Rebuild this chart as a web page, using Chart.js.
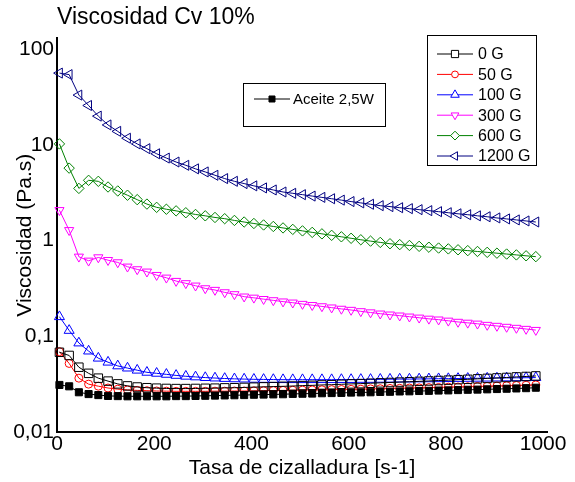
<!DOCTYPE html>
<html>
<head>
<meta charset="utf-8">
<script src="https://cdn.jsdelivr.net/npm/chart.js@4.4.0/dist/chart.umd.min.js"></script>
<style>
  html, body { margin: 0; padding: 0; background: #fff; }
  #wrap { width: 575px; height: 482px; }
</style>
</head>
<body>
<div id="wrap"><canvas id="viscChart"></canvas></div>
<script>
// shear rate [s-1]
const shearRate = [5, 25, 45, 65, 85, 105, 125, 145, 165, 185, 205, 225, 245, 265, 285, 305, 325, 345, 365, 385,
  405, 425, 445, 465, 485, 505, 525, 545, 565, 585, 605, 625, 645, 665, 685, 705, 725, 745, 765, 785,
  805, 825, 845, 865, 885, 905, 925, 945, 965, 985];

// viscosity [Pa.s]
const aceite = [0.031, 0.030, 0.026, 0.0249, 0.0243, 0.0238, 0.0237, 0.0236, 0.0236, 0.0236, 0.0236, 0.0236, 0.0237, 0.0237, 0.0238, 0.0239, 0.024, 0.0241, 0.0242, 0.0243,
  0.0245, 0.0246, 0.0247, 0.0248, 0.025, 0.0251, 0.0252, 0.0254, 0.0255, 0.0256, 0.0258, 0.0259, 0.026, 0.0262, 0.0263, 0.0265, 0.0266, 0.0268, 0.0269, 0.0271,
  0.0272, 0.0274, 0.0276, 0.0277, 0.0279, 0.0281, 0.0283, 0.0285, 0.0287, 0.029];
const g0 = [0.068, 0.063, 0.0475, 0.041, 0.0365, 0.034, 0.0318, 0.0303, 0.0295, 0.029, 0.0287, 0.0285, 0.0284, 0.0284, 0.0285, 0.0286, 0.0287, 0.0289, 0.029, 0.0292,
  0.0294, 0.0296, 0.0298, 0.03, 0.0302, 0.0305, 0.0307, 0.031, 0.0312, 0.0315, 0.0318, 0.032, 0.0323, 0.0326, 0.0329, 0.0332, 0.0335, 0.0338, 0.0341, 0.0345,
  0.0348, 0.0352, 0.0355, 0.0359, 0.0363, 0.0367, 0.0371, 0.0376, 0.038, 0.0385];
const g50 = [0.069, 0.052, 0.0365, 0.0316, 0.0301, 0.0288, 0.028, 0.0275, 0.0272, 0.027, 0.0268, 0.0267, 0.0266, 0.0266, 0.0266, 0.0266, 0.0267, 0.0267, 0.0268, 0.0268,
  0.0269, 0.027, 0.0271, 0.0272, 0.0273, 0.0274, 0.0275, 0.0276, 0.0277, 0.0278, 0.0279, 0.028, 0.0282, 0.0283, 0.0285, 0.0286, 0.0288, 0.0289, 0.0291, 0.0292,
  0.0294, 0.0295, 0.0297, 0.0299, 0.03, 0.0302, 0.0304, 0.0306, 0.0308, 0.031];
const g100 = [0.16, 0.115, 0.085, 0.07, 0.059, 0.0536, 0.049, 0.0465, 0.0442, 0.042, 0.041, 0.040, 0.039, 0.0382, 0.0376, 0.037, 0.0366, 0.0362, 0.0359, 0.0357,
  0.0355, 0.0354, 0.0353, 0.0352, 0.0352, 0.0352, 0.0352, 0.0352, 0.0352, 0.0353, 0.0353, 0.0354, 0.0354, 0.0355, 0.0356, 0.0357, 0.0357, 0.0358, 0.0359, 0.036,
  0.0361, 0.0362, 0.0363, 0.0364, 0.0365, 0.0366, 0.0367, 0.0368, 0.0369, 0.037];
const g300 = [2.07, 1.28, 0.676, 0.614, 0.665, 0.623, 0.59, 0.532, 0.499, 0.472, 0.435, 0.408, 0.377, 0.357, 0.337, 0.316, 0.304, 0.287, 0.274, 0.259,
  0.252, 0.244, 0.237, 0.230, 0.224, 0.217, 0.211, 0.205, 0.199, 0.193, 0.188, 0.182, 0.177, 0.172, 0.168, 0.164, 0.160, 0.156, 0.152, 0.149,
  0.145, 0.141, 0.138, 0.135, 0.131, 0.128, 0.125, 0.122, 0.119, 0.116];
const g600 = [10.2, 5.7, 3.5, 4.25, 4.15, 3.62, 3.29, 2.97, 2.67, 2.4, 2.22, 2.12, 2.04, 1.95, 1.87, 1.81, 1.74, 1.69, 1.62, 1.56,
  1.505, 1.453, 1.402, 1.353, 1.306, 1.26, 1.216, 1.173, 1.132, 1.093, 1.055, 1.018, 0.985, 0.955, 0.925, 0.906, 0.887, 0.869, 0.851, 0.834,
  0.817, 0.80, 0.784, 0.768, 0.752, 0.737, 0.722, 0.707, 0.692, 0.678];
const g1200 = [56, 54, 33, 25.7, 19.9, 16.1, 13.8, 11.7, 10.2, 9.1, 8.05, 7.26, 6.6, 6.1, 5.6, 5.2, 4.8, 4.43, 4.15, 3.93,
  3.72, 3.54, 3.37, 3.21, 3.11, 3.01, 2.91, 2.82, 2.73, 2.64, 2.55, 2.47, 2.39, 2.31, 2.26, 2.2, 2.15, 2.1, 2.05, 2.0,
  1.95, 1.9, 1.86, 1.81, 1.77, 1.72, 1.68, 1.64, 1.60, 1.56];

const xTicks = [0, 200, 400, 600, 800, 1000];
const yTicks = [0.01, 0.1, 1, 10, 100];

const FONT = "'Liberation Sans', Arial, sans-serif";

function pts(arr) {
  return arr.map((v, i) => ({ x: shearRate[i], y: v }));
}

function series(label, data, color, style, rot, radius, fill) {
  return {
    label: label,
    data: pts(data),
    borderColor: color,
    backgroundColor: fill || 'rgba(0,0,0,0)',
    borderWidth: 1,
    pointStyle: style,
    pointRotation: rot,
    pointRadius: radius,
    pointBorderWidth: 1,
    pointBorderColor: color,
    pointBackgroundColor: fill || 'rgba(0,0,0,0)',
    tension: 0,
    clip: false
  };
}

// draws the two framed legends of the original plot
function drawLegendBox(chart, indices, box) {
  const ctx = chart.ctx;
  ctx.save();
  ctx.strokeStyle = '#000';
  ctx.lineWidth = 1;
  ctx.strokeRect(box.x, box.y, box.w, box.h);
  ctx.font = box.size + 'px ' + FONT;
  ctx.textBaseline = 'middle';
  ctx.textAlign = 'left';
  indices.forEach((di, k) => {
    const ds = chart.data.datasets[di];
    const y = box.firstY + k * box.step;
    ctx.strokeStyle = ds.borderColor;
    ctx.beginPath();
    ctx.moveTo(box.x0, y);
    ctx.lineTo(box.x1, y);
    ctx.stroke();
    const mx = (box.x0 + box.x1) / 2;
    const opts = { pointStyle: ds.pointStyle, radius: ds.pointRadius * 0.85, rotation: ds.pointRotation, borderWidth: 1 };
    ctx.fillStyle = ds.pointBackgroundColor === 'rgba(0,0,0,0)' ? '#fff' : ds.pointBackgroundColor;
    ctx.strokeStyle = ds.borderColor;
    Chart.helpers.drawPoint(ctx, opts, mx, y);
    ctx.fillStyle = '#000';
    ctx.fillText(ds.label, box.tx, y + 1);
  });
  ctx.restore();
}

const legendPlugin = {
  id: 'legendBoxes',
  afterDraw(chart) {
    drawLegendBox(chart, [1, 2, 3, 4, 5, 6],
      { x: 427.5, y: 35.5, w: 109, h: 130, firstY: 54, step: 20.4, x0: 437, x1: 473, tx: 478, size: 16 });
    drawLegendBox(chart, [0],
      { x: 243.5, y: 83.5, w: 142, h: 43, firstY: 99, step: 0, x0: 254, x1: 290, tx: 293, size: 15 });
  }
};

new Chart(document.getElementById('viscChart'), {
  type: 'line',
  data: {
    datasets: [
      series('Aceite 2,5W', aceite, '#000000', 'rect', 0, 5, '#000000'),
      series('0 G', g0, '#000000', 'rect', 0, 6),
      series('50 G', g50, '#ff0000', 'circle', 0, 4),
      series('100 G', g100, '#0000ff', 'triangle', 0, 5.8),
      series('300 G', g300, '#ff00ff', 'triangle', 180, 5.3),
      series('600 G', g600, '#008000', 'rectRot', 0, 5.2),
      series('1200 G', g1200, '#000080', 'triangle', 270, 5.8)
    ]
  },
  options: {
    responsive: true,
    maintainAspectRatio: false,
    animation: false,
    layout: { padding: { top: 0, right: 28, bottom: 0, left: 0 } },
    plugins: {
      legend: { display: false },
      tooltip: { enabled: false },
      title: {
        display: true,
        text: 'Viscosidad Cv 10%',
        align: 'start',
        fullSize: false,
        color: '#000',
        font: { family: FONT, size: 23, weight: 'normal' },
        padding: { top: 4, bottom: 6.8 }
      }
    },
    scales: {
      x: {
        type: 'linear',
        min: 0,
        max: 1008,
        grid: { display: false, drawTicks: false },
        border: { display: true, color: '#000', width: 2 },
        afterBuildTicks: (scale) => { scale.ticks = xTicks.map(v => ({ value: v })); },
        afterFit: (scale) => { scale.height = 50; },
        ticks: {
          color: '#000',
          padding: 0,
          maxRotation: 0,
          font: { family: FONT, size: 21 },
          callback: (v) => String(v)
        },
        title: {
          display: true,
          text: 'Tasa de cizalladura [s-1]',
          color: '#000',
          font: { family: FONT, size: 21 },
          padding: { top: 0, bottom: 1 }
        }
      },
      y: {
        type: 'logarithmic',
        min: 0.01,
        max: 129,
        grid: { display: false, drawTicks: false },
        border: { display: true, color: '#000', width: 2 },
        afterBuildTicks: (scale) => { scale.ticks = yTicks.map(v => ({ value: v })); },
        afterFit: (scale) => { scale.width = 57; },
        ticks: {
          color: '#000',
          padding: 3,
          font: { family: FONT, size: 21 },
          callback: (v) => String(v).replace('.', ',')
        },
        title: {
          display: true,
          text: 'Viscosidad (Pa.s)',
          color: '#000',
          font: { family: FONT, size: 21 },
          padding: { top: 13, bottom: 0 }
        }
      }
    }
  },
  plugins: [legendPlugin]
});
</script>
</body>
</html>
